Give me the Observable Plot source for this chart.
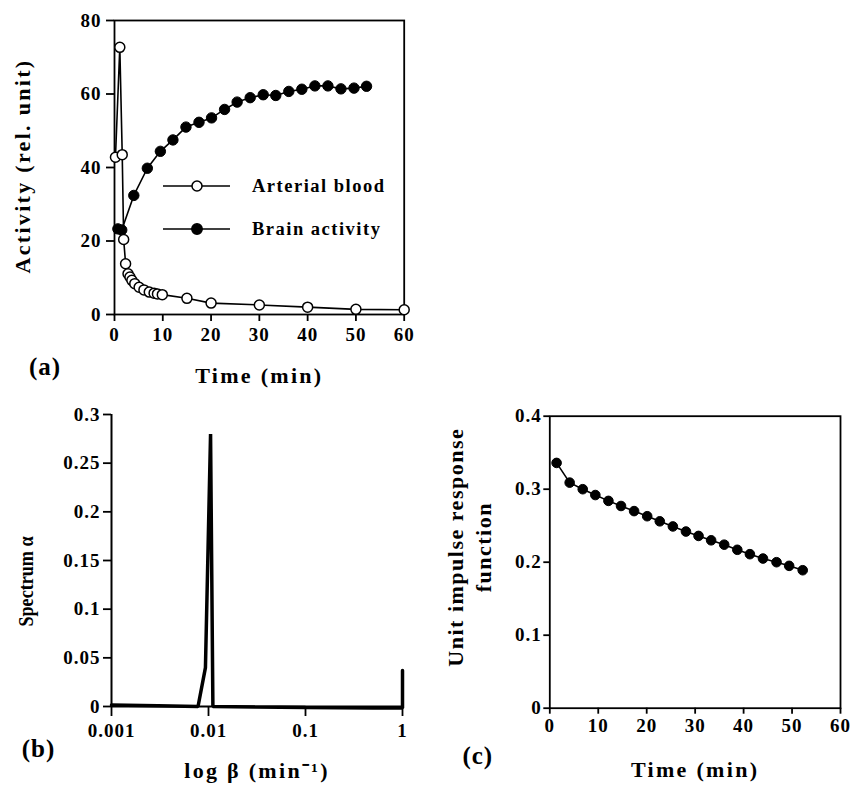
<!DOCTYPE html>
<html><head><meta charset="utf-8">
<script src="https://cdn.jsdelivr.net/npm/d3@7"></script>
<script src="https://cdn.jsdelivr.net/npm/@observablehq/plot@0.6"></script>
<style>
body{margin:0;background:#fff;}
#wrap{position:relative;width:853px;height:785px;overflow:hidden;background:#fff;font-family:"Liberation Serif","Times New Roman",serif;font-weight:bold;}
#wrap > svg{position:absolute;overflow:visible;}
g[aria-label$="tick label"] text{letter-spacing:1px;}
text[aria-label="title"]{letter-spacing:2.3px;}
text[aria-label="title-c"]{letter-spacing:1.5px;}
text[aria-label="panel"]{letter-spacing:1px;}
</style></head><body><div id="wrap"></div>
<script>
// ---------- Data ----------
// (a) arterial blood (open circles)
const arterialTime  = [0.2, 1.1, 1.6, 1.9, 2.3, 2.8, 3.2, 3.6, 4.2, 5.1, 6.1, 7.2, 8.2, 8.9, 9.9, 15, 20, 30, 40, 50, 60];
const arterialValue = [42.8, 72.7, 43.5, 20.4, 13.8, 11.1, 10.2, 9.3, 8.4, 7.4, 6.7, 6.1, 5.8, 5.6, 5.4, 4.4, 3.1, 2.6, 2.0, 1.4, 1.3];
// (a) brain activity (filled circles)
const brainTime  = [0.7, 1.5, 4.0, 6.8, 9.5, 12.1, 14.8, 17.5, 20.1, 22.8, 25.4, 28.1, 30.8, 33.4, 36.1, 38.8, 41.5, 44.2, 46.9, 49.6, 52.2];
const brainValue = [23.3, 23.0, 32.4, 39.8, 44.4, 47.5, 51.0, 52.3, 53.5, 55.8, 57.8, 59.0, 59.8, 59.6, 60.7, 61.3, 62.2, 62.2, 61.4, 61.6, 62.1];
// (b) spectrum
const specBeta  = [0.001, 0.003, 0.0078, 0.0093, 0.0105, 0.0111, 0.03, 0.1, 0.5, 1, 1];
const specAlpha = [0.0015, 0.0008, 0, 0.04, 0.28, 0, -0.0005, -0.001, -0.0015, -0.0015, 0.037];
// (c) unit impulse response function
const irfTime  = [1.4, 4.1, 6.8, 9.4, 12.1, 14.7, 17.4, 20.1, 22.7, 25.4, 28.1, 30.7, 33.3, 36.0, 38.7, 41.3, 44.0, 46.8, 49.4, 52.2];
const irfValue = [0.336, 0.309, 0.300, 0.292, 0.284, 0.277, 0.270, 0.263, 0.256, 0.249, 0.242, 0.236, 0.230, 0.224, 0.217, 0.211, 0.205, 0.200, 0.195, 0.189];
// tick labels
const ticksA_x = [0, 10, 20, 30, 40, 50, 60];
const ticksA_y = [0, 20, 40, 60, 80];
const ticksB_x = [0.001, 0.01, 0.1, 1];
const ticksB_y = [0, 0.05, 0.1, 0.15, 0.2, 0.25, 0.3];
const ticksC_x = [0, 10, 20, 30, 40, 50, 60];
const ticksC_y = [0, 0.1, 0.2, 0.3, 0.4];
const legendLabels = ["Arterial blood", "Brain activity"];
const legendFills = ["white", "black"];

const zip = (xs, ys) => xs.map((x, i) => ({x, y: ys[i]}));
const arterial = zip(arterialTime, arterialValue);
const brain = zip(brainTime, brainValue);
const spectrum = zip(specBeta, specAlpha);
const irf = zip(irfTime, irfValue);

const FONT = '"Liberation Serif", "Times New Roman", serif';
const baseStyle = {fontFamily: FONT, fontSize: "19px", fontWeight: "bold", color: "black", background: "transparent", overflow: "visible"};
const fmt = d => String(d);
const wrap = document.getElementById("wrap");
const tag = s => () => s;

function place(svg, left, top) {
  svg.style.left = left + "px";
  svg.style.top = top + "px";
  wrap.appendChild(svg);
  return svg;
}

// ---------- Panel (a) ----------
const pa = Plot.plot({
  width: 430, height: 390,
  marginLeft: 114, marginRight: 26.3, marginTop: 20, marginBottom: 76,
  style: baseStyle,
  x: {domain: [0, 60]},
  y: {domain: [0, 80]},
  marks: [
    Plot.frame({strokeWidth: 1.8}),
    Plot.axisX({ticks: ticksA_x, tickFormat: fmt, tickSize: 7, tickPadding: 6, strokeWidth: 1.8, label: null}),
    Plot.axisY({ticks: ticksA_y, tickFormat: fmt, tickSize: 8, tickPadding: 5, strokeWidth: 1.8, label: null}),
    Plot.line(brain, {x: "x", y: "y", stroke: "black", strokeWidth: 1.6}),
    Plot.line(arterial, {x: "x", y: "y", stroke: "black", strokeWidth: 1.6}),
    Plot.dot(brain, {x: "x", y: "y", r: 5.2, fill: "black", stroke: "black", strokeWidth: 1}),
    Plot.dot(arterial, {x: "x", y: "y", r: 5, fill: "white", stroke: "black", strokeWidth: 1.5}),
    Plot.text(["Time (min)"], {frameAnchor: "bottom", dy: 61, fontSize: 22, lineAnchor: "middle", ariaLabel: tag("title")}),
    Plot.text(["Activity (rel. unit)"], {frameAnchor: "left", dx: -92, dy: -1.5, rotate: -90, fontSize: 22, textAnchor: "middle", lineAnchor: "middle", ariaLabel: tag("title")}),
    Plot.text(["(a)"], {frameAnchor: "bottom-left", dx: -69.5, dy: 52.5, fontSize: 25, textAnchor: "middle", lineAnchor: "middle", ariaLabel: tag("panel")})
  ]
});
place(pa, 0, 0);

// legend for (a), drawn inside panel (a)
{
  const g = d3.select(pa).append("g").attr("aria-label", "legend");
  legendLabels.forEach((label, i) => {
    const y = 186 + i * 43;
    g.append("line").attr("x1", 163).attr("x2", 230).attr("y1", y).attr("y2", y).attr("stroke", "black").attr("stroke-width", 1.6);
    g.append("circle").attr("cx", 197).attr("cy", y).attr("r", i === 0 ? 5 : 5.2).attr("fill", legendFills[i]).attr("stroke", "black").attr("stroke-width", 1.5);
    g.append("text").attr("x", 252).attr("y", y).attr("dy", "0.34em").attr("text-anchor", "start")
      .attr("font-size", 18.5).attr("letter-spacing", "1.5px").attr("font-family", FONT).attr("font-weight", "bold").attr("fill", "black").text(label);
  });
}

// ---------- Panel (b) ----------
const pb = Plot.plot({
  width: 430, height: 395,
  marginLeft: 111, marginRight: 28, marginTop: 24, marginBottom: 79,
  style: baseStyle,
  x: {type: "log", domain: [0.001, 1]},
  y: {domain: [0, 0.3]},
  marks: [
    Plot.ruleY([0], {strokeWidth: 2}),
    Plot.ruleX([0.001], {strokeWidth: 2}),
    Plot.axisX({ticks: ticksB_x, tickFormat: fmt, tickSize: 10, tickPadding: 7, strokeWidth: 1.8, label: null}),
    Plot.axisY({ticks: ticksB_y, tickFormat: fmt, tickSize: 8, tickPadding: 3, strokeWidth: 1.8, label: null}),
    Plot.line(spectrum, {x: "x", y: "y", stroke: "black", strokeWidth: 3.5, strokeLinejoin: "miter"}),
    Plot.text(["log β (min⁻¹)"], {frameAnchor: "bottom", dy: 64, fontSize: 22, lineAnchor: "middle", ariaLabel: tag("title")}),
    Plot.text(["Spectrum α"], {frameAnchor: "left", dx: -86, dy: 21, rotate: -90, fontSize: 22, textAnchor: "middle", lineAnchor: "middle", ariaLabel: tag("title-tight")}),
    Plot.text(["(b)"], {frameAnchor: "bottom-left", dx: -73, dy: 42, fontSize: 25, textAnchor: "middle", lineAnchor: "middle", ariaLabel: tag("panel")})
  ]
});
place(pb, 0, 390);
// condense the "Spectrum α" title to the reference's length
d3.select(pb).selectAll('text[aria-label="title-tight"]').attr("textLength", 90).attr("lengthAdjust", "spacingAndGlyphs");

// ---------- Panel (c) ----------
const pc = Plot.plot({
  width: 433, height: 395,
  marginLeft: 129.3, marginRight: 13, marginTop: 25.7, marginBottom: 77.3,
  style: baseStyle,
  x: {domain: [0, 60]},
  y: {domain: [0, 0.4]},
  marks: [
    Plot.frame({strokeWidth: 1.8}),
    Plot.axisX({ticks: ticksC_x, tickFormat: fmt, tickSize: 6, tickPadding: 4, strokeWidth: 1.8, label: null}),
    Plot.axisY({ticks: ticksC_y, tickFormat: fmt, tickSize: 6, tickPadding: 2, strokeWidth: 1.8, label: null}),
    Plot.line(irf, {x: "x", y: "y", stroke: "black", strokeWidth: 1.6}),
    Plot.dot(irf, {x: "x", y: "y", r: 4.8, fill: "black", stroke: "black", strokeWidth: 1}),
    Plot.text(["Time (min)"], {frameAnchor: "bottom", dy: 62, fontSize: 22, lineAnchor: "middle", ariaLabel: tag("title")}),
    Plot.text(["Unit impulse response\nfunction"], {frameAnchor: "left", dx: -81.8, dy: -15, rotate: -90, fontSize: 22, lineHeight: 1.3, textAnchor: "middle", lineAnchor: "middle", ariaLabel: tag("title-c")}),
    Plot.text(["(c)"], {frameAnchor: "bottom-left", dx: -72, dy: 48, fontSize: 25, textAnchor: "middle", lineAnchor: "middle", ariaLabel: tag("panel")})
  ]
});
place(pc, 420, 390);
</script>
</body></html>
